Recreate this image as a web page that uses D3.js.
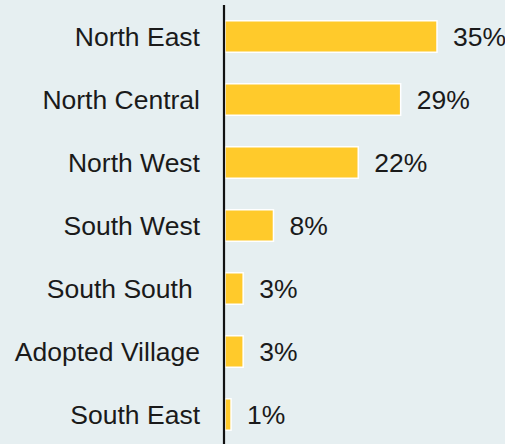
<!DOCTYPE html>
<html><head><meta charset="utf-8">
<script src="https://cdn.jsdelivr.net/npm/d3@7"></script>
<style>html,body{margin:0;padding:0;background:#e6eff1;}svg{display:block;}</style>
</head><body>
<script>
const categories = ["North East","North Central","North West","South West","South South ","Adopted Village","South East"];
const values = [35,29,22,8,3,3,1];
const valueLabels = ["35%","29%","22%","8%","3%","3%","1%"];

const W = 505, H = 444;
const svg = d3.select("body").append("svg").attr("width", W).attr("height", H);
svg.append("rect").attr("width", W).attr("height", H).attr("fill", "#e6eff1");

const x0 = 225;
const x = d3.scaleLinear().domain([0, 35]).range([x0, 437]);
const y = d3.scaleBand().domain(categories).range([5, 446]).paddingInner(0.5).paddingOuter(0.25);

svg.selectAll("rect.bar").data(categories).join("rect")
  .attr("class","bar")
  .attr("x", x0)
  .attr("y", d => y(d))
  .attr("width", (d,i) => x(values[i]) - x0)
  .attr("height", y.bandwidth())
  .attr("fill", "#ffca2b")
  .attr("stroke", "#ffffff")
  .attr("stroke-width", 1.5);

const font = "'Liberation Sans', Arial, Helvetica, sans-serif";
svg.selectAll("text.cat").data(categories).join("text")
  .attr("class","cat")
  .attr("x", 200)
  .attr("y", d => y(d) + y.bandwidth()/2)
  .attr("dy", "0.35em")
  .attr("text-anchor", "end")
  .attr("font-family", font)
  .attr("font-size", 26.5)
  .attr("fill", "#1a1a1a")
  .attr("xml:space", "preserve")
  .style("white-space", "pre")
  .text(d => d);

svg.selectAll("text.val").data(categories).join("text")
  .attr("class","val")
  .attr("x", (d,i) => x(values[i]) + 16)
  .attr("y", d => y(d) + y.bandwidth()/2)
  .attr("dy", "0.35em")
  .attr("font-family", font)
  .attr("font-size", 26.5)
  .attr("fill", "#1a1a1a")
  .text((d,i) => valueLabels[i]);

const axis = d3.axisLeft(y).tickSize(0).tickFormat("");
const g = svg.append("g").attr("transform", `translate(${x0-1},0)`).call(axis);
g.select(".domain").attr("d", `M0,5V${H}`).attr("stroke", "#111").attr("stroke-width", 2.2);
</script>
</body></html>
